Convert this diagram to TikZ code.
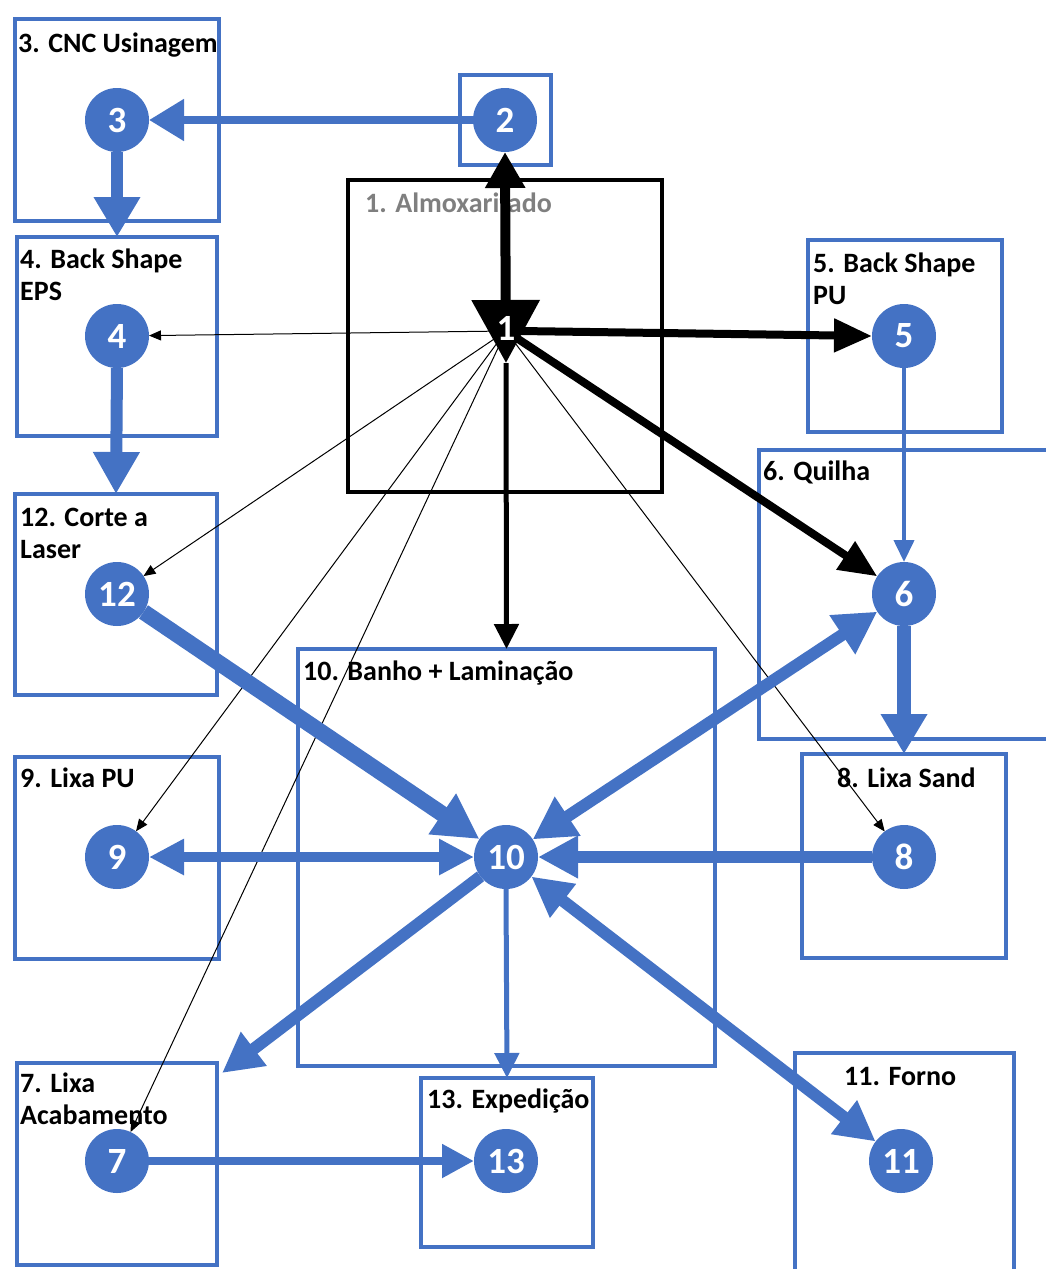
\documentclass[tikz,border=0pt]{standalone}
\usepackage{fontspec}
\setmainfont{Carlito}
\usetikzlibrary{arrows.meta}
\definecolor{oblue}{HTML}{4472C4}
\definecolor{lblgray}{HTML}{7F7F7F}
\begin{document}
\begin{tikzpicture}[x=1pt,y=-1pt,
  box/.style={draw=oblue,line width=4pt,rectangle,inner sep=0pt,outer sep=0pt},
  blackbox/.style={draw=black,line width=4pt,rectangle,inner sep=0pt,outer sep=0pt},
  stn/.style={circle,fill=oblue,minimum size=64pt,inner sep=0pt,outer sep=0pt,text=white,
    font=\fontsize{37}{37}\selectfont\bfseries},
  lbl/.style={anchor=base west,align=left,inner sep=0pt,
    font=\fontsize{28}{32}\selectfont\bfseries},
  bflow/.style={draw=oblue,line width=#1},
  kflow/.style={draw=black,line width=#1},
  thin/.style={draw=black,line width=1pt,-{Triangle[width=10pt,length=12pt]}}
]
\useasboundingbox (0,0) rectangle (1045,1269);

% station boxes
\node[box,minimum width=204pt,minimum height=202pt] (b3) at (117,120) {};
\node[box,minimum width=91pt,minimum height=90pt] (b2) at (505.5,120) {};
\node[blackbox,minimum width=314pt,minimum height=312pt] (b1) at (505,336) {};
\node[box,minimum width=200pt,minimum height=199pt] (b4) at (117,336.5) {};
\node[box,minimum width=194pt,minimum height=192pt] (b5) at (905,336) {};
\node[box,minimum width=296pt,minimum height=289pt] (b6) at (907,594.5) {};
\node[box,minimum width=202pt,minimum height=201pt] (b12) at (116,594.5) {};
\node[box,minimum width=417pt,minimum height=417pt] (b10) at (506.5,857.5) {};
\node[box,minimum width=204pt,minimum height=202pt] (b9) at (117,858) {};
\node[box,minimum width=204pt,minimum height=204pt] (b8) at (904,856) {};
\node[box,minimum width=200pt,minimum height=202pt] (b7) at (117,1164) {};
\node[box,minimum width=172pt,minimum height=169pt] (b13) at (507,1162.5) {};
\node[box,minimum width=219pt,minimum height=227pt] (b11) at (904.5,1166.5) {};

% box titles (multi-line titles are placed by their last baseline)
\node[lbl] (t3) at (18,52) {3. CNC Usinagem};
\node[lbl,text=lblgray] (t1) at (365,212) {1. Almoxarifado};
\node[lbl] (t4) at (20,300) {4. Back Shape\\EPS};
\node[lbl] (t5) at (813,304) {5. Back Shape\\PU};
\node[lbl] (t6) at (763,480) {6. Quilha};
\node[lbl] (t12) at (20,558) {12. Corte a\\Laser};
\node[lbl] (t10) at (303,680) {10. Banho + Laminação};
\node[lbl] (t9) at (20,787) {9. Lixa PU};
\node[lbl] (t8) at (837,787) {8. Lixa Sand};
\node[lbl] (t7) at (20,1124) {7. Lixa\\Acabamento};
\node[lbl] (t13) at (427,1108) {13. Expedição};
\node[lbl] (t11) at (844,1085) {11. Forno};

% stations
\node[stn] (n2) at (505,120) {2};
\node[stn] (n3) at (117,120) {3};
\node[stn] (n4) at (117,336) {4};
\node[stn] (n5) at (904,336) {5};
\node[stn] (n6) at (904,594) {6};
\node[stn] (n12) at (117,594) {12};
\node[stn] (n9) at (117,857) {9};
\node[stn] (n10) at (506,857) {10};
\node[stn] (n8) at (904,857) {8};
\node[stn] (n7) at (117,1161) {7};
\node[stn] (n13) at (506,1161) {13};
\node[stn] (n11) at (901,1161) {11};
\node[circle,minimum size=28pt,inner sep=0pt] (n1) at (506,331) {};
\coordinate (n1tip) at (506,363);
\coordinate (c7) at (222,1073);

% warehouse flows
\draw[kflow=10pt,{Triangle[width=38pt,length=36pt]}-{Triangle[width=66pt,length=63pt]}] (n2.south) -- (n1tip);
\draw[kflow=5pt,-{Triangle[width=24pt,length=25pt]}] (n1tip) -- (b10.north);
\draw[kflow=8pt,-{Triangle[width=32pt,length=38pt]}] (n1.east) -- (n5.west);
\draw[kflow=8pt,-{Triangle[width=32pt,length=38pt]}] (n1) -- (n6);
\draw[thin] (n1) -- (n4);
\draw[thin] (n1) -- (n12);
\draw[thin] (n1) -- (n9);
\draw[thin] (n1) -- (n7);
\draw[thin] (n1) -- (n8);

% process flows
\draw[bflow=8pt,-{Triangle[width=40pt,length=35pt]}] (n2) -- (n3);
\draw[bflow=12pt,-{Triangle[width=44pt,length=40pt]}] (n3.south) -- (b4.north);
\draw[bflow=12pt,-{Triangle[width=44pt,length=42pt]}] (n4.south) -- (b12.north);
\draw[bflow=4pt,-{Triangle[width=20pt,length=22pt]}] (n5.south) -- (n6.north);
\draw[bflow=14pt,-{Triangle[width=44pt,length=40pt]}] (n6.south) -- (b8.north);
\draw[bflow=16pt,-{Triangle[width=46pt,length=45pt]}] (n12) -- (n10);
\draw[bflow=12pt,{Triangle[width=44pt,length=42pt]}-{Triangle[width=44pt,length=42pt]}] (n10) -- (n6);
\draw[bflow=10pt,{Triangle[width=34pt,length=35pt]}-{Triangle[width=34pt,length=35pt]}] (n10) -- (n9);
\draw[bflow=12pt,-{Triangle[width=40pt,length=40pt]}] (n8) -- (n10);
\draw[bflow=12pt,-{Triangle[width=40pt,length=40pt]}] (n10) -- (c7);
\draw[bflow=5pt,-{Triangle[width=24pt,length=25pt]}] (n10.south) -- (b13.north);
\draw[bflow=12pt,{Triangle[width=40pt,length=40pt]}-{Triangle[width=40pt,length=40pt]}] (n10) -- (n11);
\draw[bflow=8pt,-{Triangle[width=32pt,length=32pt]}] (n7) -- (n13);

% warehouse number on top of the arrow head
\node[text=white,font=\fontsize{37}{37}\selectfont\bfseries,inner sep=0pt] (n1txt) at (506,328) {1};
\end{tikzpicture}
\end{document}
